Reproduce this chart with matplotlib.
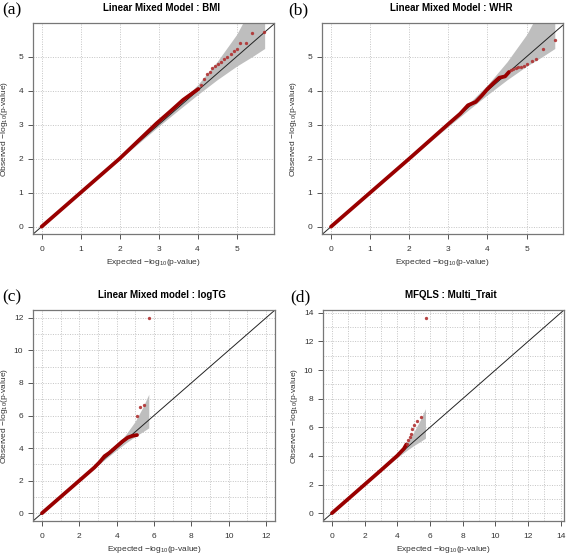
import matplotlib
matplotlib.use("Agg")
import matplotlib.pyplot as plt

plt.rcParams['font.family'] = ['Liberation Sans', 'DejaVu Sans']
plt.rcParams['mathtext.fontset'] = 'custom'
plt.rcParams['mathtext.rm'] = 'Liberation Sans'
plt.rcParams['mathtext.it'] = 'Liberation Sans:italic'

# ---- data (expected vs observed -log10 p) ----
# (a) Linear Mixed Model : BMI
bmi_dense_x = [0.0, 1.0, 2.0, 2.95, 3.29, 3.63, 3.80, 4.02]
bmi_dense_y = [0.0, 1.0, 2.0, 3.04, 3.38, 3.73, 3.87, 4.05]
bmi_tail_x = [4.10, 4.17, 4.25, 4.32, 4.38, 4.44, 4.53, 4.60, 4.68, 4.76,
              4.85, 4.94, 5.02, 5.10, 5.24, 5.40, 5.71]
bmi_tail_y = [4.17, 4.33, 4.49, 4.56, 4.66, 4.73, 4.78, 4.85, 4.93, 5.00,
              5.08, 5.17, 5.22, 5.39, 5.41, 5.71, 5.74]

# (b) Linear Mixed Model : WHR
whr_dense_x = [0.0, 1.0, 2.0, 3.0, 3.3, 3.5, 3.7, 3.85, 4.0, 4.15, 4.3, 4.45, 4.55]
whr_dense_y = [0.0, 1.0, 2.0, 3.02, 3.32, 3.57, 3.67, 3.85, 4.05, 4.22, 4.38, 4.42, 4.55]
whr_tail_x = [4.60, 4.66, 4.72, 4.78, 4.85, 4.93, 5.02, 5.13, 5.24, 5.43, 5.73]
whr_tail_y = [4.60, 4.64, 4.67, 4.69, 4.71, 4.74, 4.79, 4.86, 4.94, 5.24, 5.50]

# (c) Linear Mixed model : logTG
tg_dense_x = [0.0, 1.0, 2.0, 2.8, 3.1, 3.35, 3.6, 4.0, 4.3, 4.6, 4.85, 5.09]
tg_dense_y = [0.0, 1.0, 2.0, 2.8, 3.15, 3.5, 3.7, 4.1, 4.4, 4.65, 4.75, 4.8]
tg_tail_x = [5.09, 5.23, 5.44, 5.71]
tg_tail_y = [5.97, 6.50, 6.65, 11.98]

# (d) MFQLS : Multi_Trait
mt_dense_x = [0.0, 1.0, 2.0, 3.0, 4.0, 4.4, 4.55]
mt_dense_y = [0.0, 1.0, 2.0, 3.0, 4.02, 4.5, 4.8]
mt_tail_x = [4.60, 4.68, 4.75, 4.82, 4.90, 5.00, 5.20, 5.45, 5.76]
mt_tail_y = [4.85, 5.10, 5.35, 5.55, 5.85, 6.15, 6.45, 6.75, 13.65]

# confidence band (same SNP count in all panels)
band_x = [2.0, 3.0, 3.5, 4.0, 4.5, 5.0, 5.4, 5.72]
band_hi = [2.02, 3.06, 3.60, 4.17, 4.85, 5.65, 6.50, 7.30]
band_lo = [1.98, 2.95, 3.42, 3.88, 4.32, 4.72, 5.00, 5.24]

panels = [
    dict(tag="(a)", title="Linear Mixed Model : BMI", dx=bmi_dense_x, dy=bmi_dense_y,
         tx=bmi_tail_x, ty=bmi_tail_y, box=(33, 23, 274, 234),
         xlim=(-0.22, 5.96), ylim=(-0.215, 5.99), ticks=range(0, 6), grid=range(0, 6),
         tcx=161.7, tagx=2),
    dict(tag="(b)", title="Linear Mixed Model : WHR", dx=whr_dense_x, dy=whr_dense_y,
         tx=whr_tail_x, ty=whr_tail_y, box=(322, 23, 563, 234),
         xlim=(-0.23, 5.93), ylim=(-0.215, 5.99), ticks=range(0, 6), grid=range(0, 6),
         tcx=451, tagx=288),
    dict(tag="(c)", title="Linear Mixed model : logTG", dx=tg_dense_x, dy=tg_dense_y,
         tx=tg_tail_x, ty=tg_tail_y, box=(33, 310, 275, 521),
         xlim=(-0.48, 12.48), ylim=(-0.48, 12.48), ticks=range(0, 13, 2), grid=range(0, 13),
         tcx=161.7, tagx=2),
    dict(tag="(d)", title="MFQLS : Multi_Trait", dx=mt_dense_x, dy=mt_dense_y,
         tx=mt_tail_x, ty=mt_tail_y, box=(323, 310, 564, 521),
         xlim=(-0.55, 14.2), ylim=(-0.55, 14.2), ticks=range(0, 15, 2), grid=range(0, 15),
         tcx=451, tagx=290),
]

W, H = 567, 555
fig = plt.figure(figsize=(W / 100, H / 100), dpi=100)

for p in panels:
    x0, y0, x1, y1 = p["box"]
    ax = fig.add_axes([x0 / W, 1 - y1 / H, (x1 - x0) / W, (y1 - y0) / H])
    ax.set_xlim(*p["xlim"])
    ax.set_ylim(*p["ylim"])

    for g in p["grid"]:
        ax.axvline(g, color="#c4c4c4", lw=0.7, ls=(0, (1, 1.5)), zorder=0)
        ax.axhline(g, color="#c4c4c4", lw=0.7, ls=(0, (1, 1.5)), zorder=0)

    ax.fill_between(band_x, band_lo, band_hi, color="#bebebe", lw=0, zorder=1)
    ax.axline((0, 0), slope=1, color="#222222", lw=0.7, zorder=2)
    ax.plot(p["dx"], p["dy"], color="#990000", lw=2.7, solid_capstyle="round", zorder=3)
    ax.plot(p["tx"], p["ty"], "o", color="#b03030", ms=2.4, mew=0, alpha=0.9, zorder=4)

    ax.set_xticks(list(p["ticks"]))
    ax.set_yticks(list(p["ticks"]))
    ax.tick_params(direction="out", length=3.5, width=0.7, color="#555555",
                   labelcolor="#333333", labelsize=6)
    ax.tick_params(axis="x", pad=5)
    ax.tick_params(axis="y", pad=3.5)
    for s in ax.spines.values():
        s.set_color("#777777")
        s.set_linewidth(0.9)

    ax.set_xlabel("Expected \u2212log$_{10}$(p-value)", fontsize=6, color="#333333")
    ax.set_ylabel("Observed \u2212log$_{10}$(p-value)", fontsize=6, color="#333333")
    ax.xaxis.set_label_coords(0.5, -0.107)
    ax.yaxis.set_label_coords(-0.095, 0.5)

    fig.text(p["tcx"] / W, 1 - (y0 - 15) / H, p["title"], fontsize=7, fontweight="bold",
             ha="center", va="center")
    fig.text(p["tagx"] / W, 1 - (y0 - 13) / H, p["tag"], fontsize=12.5,
             family=["Liberation Serif", "DejaVu Serif"], ha="left", va="center")

fig.savefig("out.png", dpi=100)
